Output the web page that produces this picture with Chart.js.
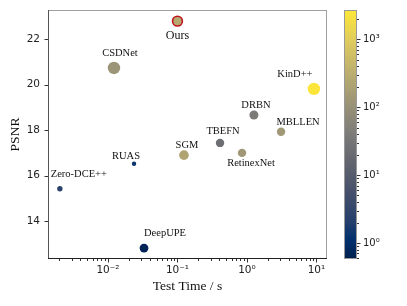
<!DOCTYPE html>
<html>
<head>
<meta charset="utf-8">
<script src="https://cdn.jsdelivr.net/npm/chart.js@4.4.1/dist/chart.umd.min.js"></script>
<style>
  html, body { margin: 0; background: #fff; }
  #wrap { width: 407px; height: 306px; }
</style>
</head>
<body>
<div id="wrap"><canvas id="chart" width="407" height="306"></canvas></div>
<script>
// data
const methods = ['Ours', 'CSDNet', 'KinD++', 'DRBN', 'MBLLEN', 'TBEFN', 'RetinexNet', 'SGM', 'RUAS', 'Zero-DCE++', 'DeepUPE'];
const testTime = [0.1, 0.0122, 9.2, 1.26, 3.1, 0.41, 0.85, 0.124, 0.0237, 0.00203, 0.033];
const psnr = [22.80, 20.74, 19.82, 18.67, 17.93, 17.44, 17.00, 16.90, 16.52, 15.42, 12.81];
const colorValue = [260, 120, 2450, 40, 140, 22, 130, 215, 1.35, 2.4, 0.7];
const xMajorTicks = [0.01, 0.1, 1, 10];
const yTicks = [14, 16, 18, 20, 22];
const cbMajorTicks = [1, 10, 100, 1000];

// styles
const radius = [4.9, 6.2, 6.2, 4.5, 4.2, 4.2, 4.2, 4.8, 2.2, 2.7, 4.4];
const labelOffset = [[0, 15], [6, -15], [-19, -15], [2, -10], [17, -10], [3, -12], [9, 10], [3, -10], [-8, -8], [19, -15], [21, -15]];
const cbMin = 0.58, cbMax = 2700;

const cividis = [
  [0.0, '#00204d'], [0.08, '#00306f'], [0.15, '#25406c'], [0.25, '#414d6b'],
  [0.375, '#5f636e'], [0.5, '#7c7b78'], [0.625, '#9b9477'], [0.75, '#bcaf6f'],
  [0.875, '#dfcb5d'], [1.0, '#fee838']
];

function hexRgb(h) {
  return [1, 3, 5].map(i => parseInt(h.substr(i, 2), 16));
}
function cmap(t) {
  t = Math.max(0, Math.min(1, t));
  for (let i = 1; i < cividis.length; i++) {
    if (t <= cividis[i][0]) {
      const [t0, c0] = cividis[i - 1], [t1, c1] = cividis[i];
      const f = (t - t0) / (t1 - t0);
      const a = hexRgb(c0), b = hexRgb(c1);
      const c = a.map((v, k) => Math.round(v + (b[k] - v) * f));
      return 'rgb(' + c.join(',') + ')';
    }
  }
  return cividis[cividis.length - 1][1];
}
function norm(v) {
  return (Math.log10(v) - Math.log10(cbMin)) / (Math.log10(cbMax) - Math.log10(cbMin));
}

const SUP = { '-': '\u207b', '0': '\u2070', '1': '\u00b9', '2': '\u00b2', '3': '\u00b3' };
function pow10Label(v) {
  const e = String(Math.round(Math.log10(v)));
  return '10' + e.split('').map(ch => SUP[ch]).join('');
}
function isMajor(v) {
  const l = Math.log10(v);
  return Math.abs(l - Math.round(l)) < 1e-9;
}
function logTicks(min, max) {
  const out = [];
  for (let e = Math.floor(Math.log10(min)); e <= Math.ceil(Math.log10(max)); e++) {
    for (let m = 1; m < 10; m++) {
      const v = m * Math.pow(10, e);
      if (v >= min && v <= max) out.push({ value: v });
    }
  }
  return out;
}
// keep the plot box fixed: no extra room for tick labels
function noPad(s) {
  s.paddingTop = 0; s.paddingBottom = 0; s.paddingLeft = 0; s.paddingRight = 0;
}

const points = testTime.map((t, i) => ({ x: t, y: psnr[i] }));

const decor = {
  id: 'decor',
  afterDraw(chart) {
    const ctx = chart.ctx;
    const a = chart.chartArea;
    const xs = chart.scales.x, ys = chart.scales.y, cb = chart.scales.cb;
    ctx.save();
    // frame
    ctx.lineWidth = 1;
    ctx.strokeStyle = '#a0a0a0';
    ctx.beginPath();
    ctx.moveTo(a.left, a.top + 0.5); ctx.lineTo(a.right, a.top + 0.5);
    ctx.moveTo(a.right - 0.5, a.top); ctx.lineTo(a.right - 0.5, a.bottom);
    ctx.stroke();
    ctx.strokeStyle = '#555';
    ctx.beginPath();
    ctx.moveTo(a.left + 0.5, a.top); ctx.lineTo(a.left + 0.5, a.bottom);
    ctx.stroke();
    ctx.strokeStyle = '#222';
    ctx.beginPath();
    ctx.moveTo(a.left, a.bottom - 0.5); ctx.lineTo(a.right, a.bottom - 0.5);
    ctx.stroke();
    // tick marks
    ctx.strokeStyle = '#333';
    ctx.beginPath();
    xs.ticks.forEach(t => {
      const px = Math.round(xs.getPixelForValue(t.value)) + 0.5;
      const len = isMajor(t.value) ? 3.5 : 2;
      ctx.moveTo(px, a.bottom); ctx.lineTo(px, a.bottom + len);
    });
    ys.ticks.forEach(t => {
      const py = Math.round(ys.getPixelForValue(t.value)) + 0.5;
      ctx.moveTo(a.left, py); ctx.lineTo(a.left - 3.5, py);
    });
    ctx.stroke();
    // colorbar
    const cx0 = 344, cx1 = 357;
    const g = ctx.createLinearGradient(0, cb.bottom, 0, cb.top);
    for (let i = 0; i <= 40; i++) g.addColorStop(i / 40, cmap(i / 40));
    ctx.fillStyle = g;
    ctx.fillRect(cx0, cb.top, cx1 - cx0, cb.bottom - cb.top);
    ctx.strokeStyle = '#999';
    ctx.strokeRect(cx0 + 0.5, cb.top + 0.5, cx1 - cx0 - 1, cb.bottom - cb.top - 1);
    ctx.strokeStyle = '#333';
    ctx.beginPath();
    cb.ticks.forEach(t => {
      const py = Math.round(cb.getPixelForValue(t.value)) + 0.5;
      const len = isMajor(t.value) ? 3.5 : 2;
      ctx.moveTo(cx1, py); ctx.lineTo(cx1 + len, py);
    });
    ctx.stroke();
    // method labels
    ctx.fillStyle = '#111';
    ctx.textAlign = 'center';
    ctx.textBaseline = 'middle';
    methods.forEach((m, i) => {
      const px = xs.getPixelForValue(testTime[i]);
      const py = ys.getPixelForValue(psnr[i]);
      ctx.font = (i === 0 ? '12px' : '10.5px') + ' "Liberation Serif", "Times New Roman", serif';
      ctx.fillText(m, px + labelOffset[i][0], py + labelOffset[i][1]);
    });
    ctx.restore();
  }
};

const tickFont = { family: '"DejaVu Sans", sans-serif', size: 10.5 };
const titleFont = { family: '"Liberation Serif", "Times New Roman", serif', size: 13.5 };

new Chart(document.getElementById('chart'), {
  type: 'scatter',
  data: {
    datasets: [{
      data: points,
      pointRadius: radius,
      pointHoverRadius: radius,
      pointBackgroundColor: colorValue.map(v => cmap(norm(v))),
      pointBorderColor: methods.map((m, i) => i === 0 ? '#c0141c' : 'rgba(0,0,0,0)'),
      pointBorderWidth: methods.map((m, i) => i === 0 ? 1.6 : 0)
    }]
  },
  options: {
    responsive: false,
    animation: false,
    layout: { padding: { top: 10, left: 0, right: 0, bottom: 0 } },
    plugins: { legend: { display: false }, tooltip: { enabled: false } },
    scales: {
      x: {
        type: 'logarithmic',
        min: 0.00137,
        max: 14.2,
        afterBuildTicks: s => { s.ticks = logTicks(s.min, s.max); },
        afterFit: s => { s.height = 47; noPad(s); },
        grid: { display: true, drawOnChartArea: false, drawTicks: false },
        border: { display: false },
        ticks: {
          font: tickFont, color: '#222', padding: 5, autoSkip: false, maxRotation: 0,
          callback: v => xMajorTicks.some(m => Math.abs(m - v) / m < 1e-6) ? pow10Label(v) : ''
        },
        title: { display: true, text: 'Test Time / s', font: titleFont, color: '#111', padding: { top: 0, bottom: 11 } }
      },
      y: {
        type: 'linear',
        min: 12.33,
        max: 23.29,
        afterBuildTicks: s => { s.ticks = yTicks.map(v => ({ value: v })); },
        afterFit: s => { s.width = 48; noPad(s); },
        grid: { display: true, drawOnChartArea: false, drawTicks: false },
        border: { display: false },
        ticks: { font: tickFont, color: '#222', padding: 8, callback: v => String(v) },
        title: { display: true, text: 'PSNR', font: titleFont, color: '#111', padding: { top: 7, bottom: 0 } }
      },
      cb: {
        type: 'logarithmic',
        position: 'right',
        min: cbMin,
        max: cbMax,
        afterBuildTicks: s => { s.ticks = logTicks(s.min, s.max); },
        afterFit: s => { s.width = 80; noPad(s); },
        grid: { display: true, drawOnChartArea: false, drawTicks: false },
        border: { display: false },
        ticks: {
          font: { family: '"DejaVu Sans", sans-serif', size: 10 }, color: '#222', padding: 36, autoSkip: false,
          callback: v => cbMajorTicks.some(m => Math.abs(m - v) / m < 1e-6) ? pow10Label(v) : ''
        }
      }
    }
  },
  plugins: [decor]
});
</script>
</body>
</html>
